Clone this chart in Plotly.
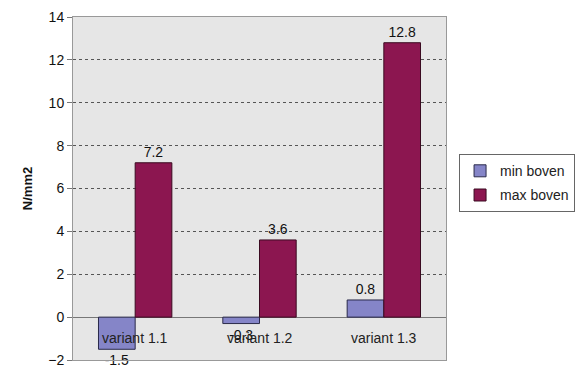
import plotly.graph_objects as go

categories = ["variant 1.1", "variant 1.2", "variant 1.3"]
min_boven = [-1.5, -0.3, 0.8]
max_boven = [7.2, 3.6, 12.8]
y_ticks = [-2, 0, 2, 4, 6, 8, 10, 12, 14]

font_family = "Liberation Sans, Arial, sans-serif"

fig = go.Figure()
fig.add_trace(go.Bar(
    name="min boven", x=categories, y=min_boven, legendgroup="a",
    marker=dict(color="#8585c8", line=dict(color="#2a2a4a", width=1)),
    text=[f"{v:g}" for v in min_boven], textposition="outside",
    textfont=dict(size=14, color="#111"), cliponaxis=False,
))
fig.add_trace(go.Bar(
    name="max boven", x=categories, y=max_boven, legendgroup="b",
    marker=dict(color="#8c1650", line=dict(color="#3a0a20", width=1)),
    text=[f"{v:g}" for v in max_boven], textposition="outside",
    textfont=dict(size=14, color="#111"), cliponaxis=False,
))

# category labels sit just under the zero line
for c in categories:
    fig.add_annotation(x=c, y=-0.5, xref="x", yref="y", text=c,
                       showarrow=False, yanchor="top",
                       font=dict(size=14, color="#222", family=font_family))

fig.update_layout(
    width=575, height=372,
    margin=dict(l=73, r=129, t=17, b=12, autoexpand=False),
    paper_bgcolor="white",
    plot_bgcolor="#e6e6e6",
    barmode="group", bargap=0.41, bargroupgap=0,
    font=dict(family=font_family, color="#111"),
    showlegend=True,
    legend=dict(
        x=1.035, y=0.6, xanchor="left", yanchor="top",
        bgcolor="white", bordercolor="#666", borderwidth=1,
        font=dict(size=14, color="#222"),
        itemwidth=30, traceorder="grouped", tracegroupgap=3,
    ),
)
fig.update_xaxes(
    showticklabels=False, showgrid=False, zeroline=False,
    showline=True, linecolor="#999", linewidth=1, mirror=True,
    ticks="",
)
fig.update_yaxes(
    range=[-2, 14], tickvals=y_ticks,
    showgrid=True, gridcolor="#555", griddash="dot", gridwidth=1,
    zeroline=True, zerolinecolor="#777", zerolinewidth=1,
    showline=True, linecolor="#999", linewidth=1, mirror=True,
    ticks="outside", ticklen=5, tickcolor="#777",
    tickfont=dict(size=14, color="#111", family="Liberation Sans, Arial"),
    title=dict(text="<b>N/mm2</b>", font=dict(size=13, color="#111"), standoff=12),
)

fig.write_html("out.html")
